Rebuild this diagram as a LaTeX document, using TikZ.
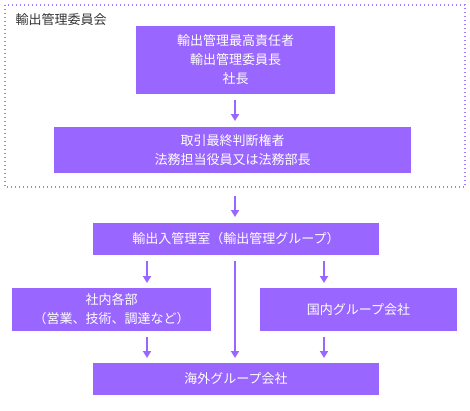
\documentclass[tikz,border=0pt]{standalone}
\usepackage{fontspec}
\setmainfont{Noto Sans CJK JP}
\usetikzlibrary{arrows.meta}
\definecolor{boxpurple}{HTML}{9966FF}
\definecolor{dotpurple}{HTML}{A57CFF}
\tikzset{
  pbox/.style={fill=boxpurple, text=white, inner sep=0pt, align=center, font=\fontsize{13}{19}\selectfont},
  parrow/.style={draw=boxpurple, line width=2.6pt, -{Triangle[width=8pt,length=7pt]}},
}
\begin{document}
\begin{tikzpicture}[x=1pt,y=-1pt]
\useasboundingbox (0,0) rectangle (470,410);
\draw[dotpurple, line width=1.4pt, dash pattern=on 1.4pt off 2.6pt] (5,5) rectangle (465,187);
\node[anchor=west, font=\fontsize{13}{16}\selectfont, text=black!80] (committee) at (12,20) {輸出管理委員会};
\node[pbox, minimum width=199pt, minimum height=68pt] (top) at (235.5,60) {輸出管理最高責任者\\輸出管理委員長\\社長};
\node[pbox, minimum width=357pt, minimum height=46pt] (legal) at (232.5,150) {取引最終判断権者\\法務担当役員又は法務部長};
\node[pbox, minimum width=286pt, minimum height=32pt] (ctrl) at (236,239) {輸出入管理室（輸出管理グループ）};
\node[pbox, minimum width=199pt, minimum height=43pt] (dept) at (111.5,309.5) {社内各部\\（営業、技術、調達など）};
\node[pbox, minimum width=197pt, minimum height=43pt] (dom) at (358.5,309.5) {国内グループ会社};
\node[pbox, minimum width=286pt, minimum height=32pt] (over) at (236,379) {海外グループ会社};
\coordinate (a1s) at (235,100); \coordinate (a1e) at (235,121);
\draw[parrow] (a1s) -- (a1e);
\coordinate (a2s) at (235,196); \coordinate (a2e) at (235,217);
\draw[parrow] (a2s) -- (a2e);
\coordinate (a3s) at (147,261); \coordinate (a3e) at (147,283);
\draw[parrow] (a3s) -- (a3e);
\coordinate (a4s) at (235,261); \coordinate (a4e) at (235,358);
\draw[parrow] (a4s) -- (a4e);
\coordinate (a5s) at (324,261); \coordinate (a5e) at (324,283);
\draw[parrow] (a5s) -- (a5e);
\coordinate (a6s) at (147,337); \coordinate (a6e) at (147,358);
\draw[parrow] (a6s) -- (a6e);
\coordinate (a7s) at (324,337); \coordinate (a7e) at (324,358);
\draw[parrow] (a7s) -- (a7e);
\end{tikzpicture}
\end{document}
